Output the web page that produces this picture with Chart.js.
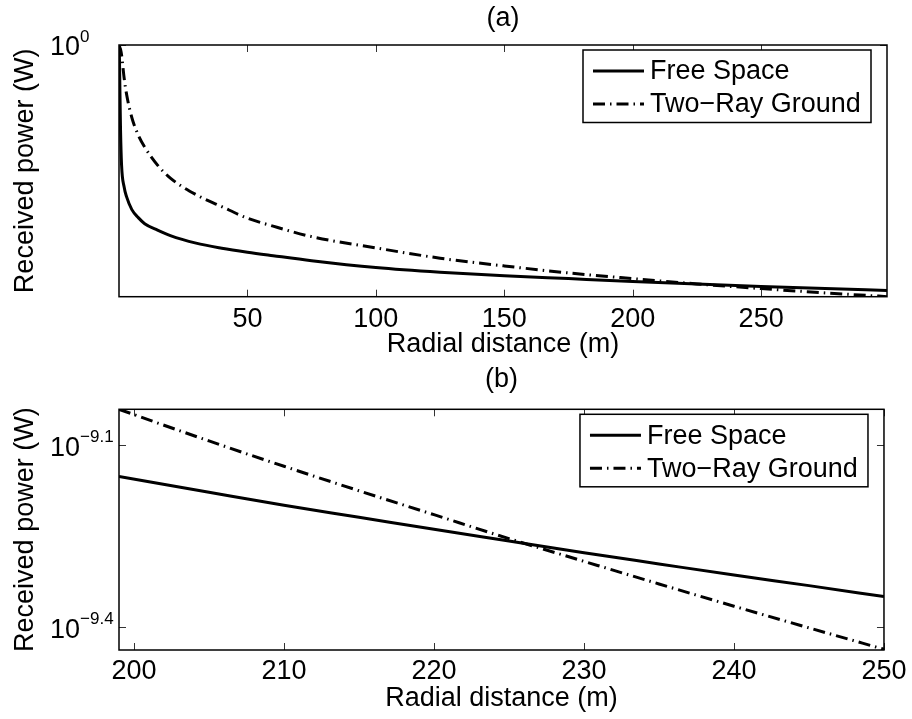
<!DOCTYPE html>
<html>
<head>
<meta charset="utf-8">
<script src="https://cdn.jsdelivr.net/npm/chart.js@4.4.0/dist/chart.umd.min.js"></script>
<style>
  html, body { margin: 0; padding: 0; background: #fff; }
  #wrap { position: relative; width: 912px; height: 719px; }
  canvas { position: absolute; left: 0; }
  #grafA { top: 0; }
  #grafB { top: 360px; }
</style>
</head>
<body>
<div id="wrap">
  <canvas id="grafA" width="912" height="360"></canvas>
  <canvas id="grafB" width="912" height="359"></canvas>
</div>
<script>
// (a) - faixa inteira de distancia
var distA = [0.1, 0.3, 0.6, 1, 2, 3, 5, 7.5, 10, 15, 20, 30, 40, 50, 60, 75, 100, 125, 150, 175, 200, 225, 250, 275, 299];
var freeSpaceA = [1, 4.40e-2, 5.07e-4, 2.23e-5, 3.13e-6, 1.28e-6, 4.19e-7, 2.06e-7, 1.20e-7, 6.73e-8, 4.12e-8, 2.11e-8, 1.35e-8,
  9.44e-9, 6.92e-9, 4.43e-9, 2.41e-9, 1.58e-9, 1.15e-9, 8.95e-10, 6.98e-10, 5.52e-10, 4.47e-10, 3.69e-10, 3.12e-10];
var twoRayA = [1, 0.815, 0.681, 0.409, 5.26e-2, 1.15e-2, 1.55e-3, 3.24e-4, 1.11e-4, 2.23e-5, 6.98e-6, 1.60e-6, 5.48e-7,
  1.96e-7, 9.62e-8, 3.77e-8, 1.38e-8, 5.52e-9, 2.77e-9, 1.48e-9, 8.92e-10, 5.57e-10, 3.66e-10, 2.50e-10, 1.79e-10];
var xTicksA = [50, 100, 150, 200, 250];
var yTicksA = [1];
var yExpA = ['0'];

// (b) - zoom entre 199 e 250 m
var distB = [199, 205, 210, 215, 220, 225, 230, 235, 240, 245, 250];
var freeSpaceB = [7.05e-10, 6.64e-10, 6.32e-10, 6.04e-10, 5.77e-10, 5.52e-10, 5.28e-10, 5.06e-10, 4.85e-10, 4.66e-10, 4.47e-10];
var twoRayB = [9.10e-10, 8.07e-10, 7.33e-10, 6.68e-10, 6.10e-10, 5.57e-10, 5.11e-10, 4.69e-10, 4.31e-10, 3.97e-10, 3.66e-10];
var xTicksB = [200, 210, 220, 230, 240, 250];
var yTicksB = [3.981e-10, 7.943e-10];
var yExpB = ['\u22129.4', '\u22129.1'];

var seriesLabels = ['Free Space', 'Two\u2212Ray Ground'];
var FONT = '"Liberation Sans", Arial, Helvetica, sans-serif';

function pts(xs, ys) {
  return xs.map(function (x, i) { return { x: x, y: ys[i] }; });
}

// caixa estilo matlab: borda, ticks pra dentro, labels 10^x, titulo e legenda
var matlabBox = {
  id: 'matlabBox',
  afterDraw: function (chart, args, opts) {
    var ctx = chart.ctx;
    var a = chart.chartArea;
    var xs = chart.scales.x, ys = chart.scales.y;
    ctx.save();

    ctx.strokeStyle = '#333';
    ctx.lineWidth = 1;
    ctx.beginPath();
    opts.xTicks.forEach(function (v) {
      var px = Math.round(xs.getPixelForValue(v)) + 0.5;
      ctx.moveTo(px, a.bottom); ctx.lineTo(px, a.bottom - 7);
      ctx.moveTo(px, a.top); ctx.lineTo(px, a.top + 7);
    });
    opts.yTicks.forEach(function (v) {
      var py = Math.round(ys.getPixelForValue(v)) + 0.5;
      ctx.moveTo(a.left, py); ctx.lineTo(a.left + 7, py);
      ctx.moveTo(a.right, py); ctx.lineTo(a.right - 7, py);
    });
    ctx.stroke();

    ctx.strokeStyle = '#000';
    ctx.lineWidth = 1.5;
    ctx.strokeRect(a.left, a.top, a.right - a.left, a.bottom - a.top);

    // labels do eixo y
    ctx.fillStyle = '#000';
    ctx.textAlign = 'left';
    ctx.textBaseline = 'middle';
    opts.yTicks.forEach(function (v, i) {
      var py = ys.getPixelForValue(v);
      ctx.font = '27px ' + FONT;
      ctx.fillText('10', 50, py + 3);
      var w = ctx.measureText('10').width;
      ctx.font = '17px ' + FONT;
      ctx.fillText(opts.yExp[i], 50 + w, py - 8);
    });

    // titulo (a)/(b)
    ctx.font = '27px ' + FONT;
    ctx.textAlign = 'center';
    ctx.fillText(opts.title, (a.left + a.right) / 2, opts.titleY);

    // legenda
    var bw = 288, bh = 72.5;
    var bx = a.right - 16 - bw, by = a.top + 5;
    ctx.fillStyle = '#fff';
    ctx.fillRect(bx, by, bw, bh);
    ctx.strokeStyle = '#000';
    ctx.lineWidth = 1.5;
    ctx.strokeRect(bx, by, bw, bh);
    var rows = [21, 54];
    chart.data.datasets.forEach(function (ds, i) {
      var ry = by + rows[i];
      ctx.beginPath();
      ctx.setLineDash(ds.borderDash || []);
      ctx.lineWidth = ds.borderWidth;
      ctx.strokeStyle = ds.borderColor;
      ctx.moveTo(bx + 10, ry);
      ctx.lineTo(bx + 61, ry);
      ctx.stroke();
      ctx.setLineDash([]);
      ctx.fillStyle = '#000';
      ctx.textAlign = 'left';
      ctx.font = '27px ' + FONT;
      ctx.fillText(ds.label, bx + 67, ry + 1);
    });
    ctx.restore();
  }
};

function makeChart(id, dist, free, twoRay, xMin, xMax, yMin, yMax, xTicks, yTicks, yExp, title, titleY, pad, tickPad, titlePad) {
  return new Chart(document.getElementById(id), {
    type: 'line',
    data: {
      datasets: [
        {
          label: seriesLabels[0],
          data: pts(dist, free),
          borderColor: '#000',
          borderWidth: 3,
          pointRadius: 0,
          cubicInterpolationMode: 'monotone',
          fill: false
        },
        {
          label: seriesLabels[1],
          data: pts(dist, twoRay),
          borderColor: '#000',
          borderWidth: 3,
          borderDash: [12, 5, 1.5, 5],
          pointRadius: 0,
          cubicInterpolationMode: 'monotone',
          fill: false
        }
      ]
    },
    options: {
      responsive: false,
      animation: false,
      devicePixelRatio: 1,
      events: [],
      layout: { padding: pad },
      plugins: {
        legend: { display: false },
        tooltip: { enabled: false },
        matlabBox: { xTicks: xTicks, yTicks: yTicks, yExp: yExp, title: title, titleY: titleY }
      },
      scales: {
        x: {
          type: 'linear',
          min: xMin,
          max: xMax,
          grid: { display: false, drawTicks: false },
          border: { display: false },
          afterBuildTicks: function (s) { s.ticks = xTicks.map(function (v) { return { value: v }; }); },
          afterFit: function (s) { s.height = pad.xh; },
          ticks: {
            autoSkip: false,
            maxRotation: 0,
            padding: tickPad,
            color: '#000',
            font: { family: FONT, size: 27 },
            callback: function (v) { return String(v); }
          },
          title: {
            display: true,
            text: 'Radial distance (m)',
            color: '#000',
            font: { family: FONT, size: 27, lineHeight: 1 },
            padding: { top: 0, bottom: titlePad }
          }
        },
        y: {
          type: 'logarithmic',
          min: yMin,
          max: yMax,
          grid: { display: false, drawTicks: false },
          border: { display: false },
          afterBuildTicks: function (s) { s.ticks = yTicks.map(function (v) { return { value: v }; }); },
          afterFit: function (s) { s.width = 119; },
          ticks: { display: false },
          title: {
            display: true,
            text: 'Received power (W)',
            color: '#000',
            font: { family: FONT, size: 27, lineHeight: 1 },
            padding: { top: 12, bottom: 0 }
          }
        }
      }
    },
    plugins: [matlabBox]
  });
}

var grafA = makeChart('grafA', distA, freeSpaceA, twoRayA, 0, 299, 1.78e-10, 1,
  xTicksA, yTicksA, yExpA, '(a)', 18.5,
  { top: 45, left: 0, right: 25, bottom: 0, xh: 63.3 }, 7, 1.5);

var grafB = makeChart('grafB', distB, freeSpaceB, twoRayB, 199, 250, 3.65e-10, 9.1e-10,
  xTicksB, yTicksB, yExpB, '(b)', 20,
  { top: 49.3, left: 0, right: 25, bottom: 0, xh: 69 }, 5.5, 6.5);
</script>
</body>
</html>
